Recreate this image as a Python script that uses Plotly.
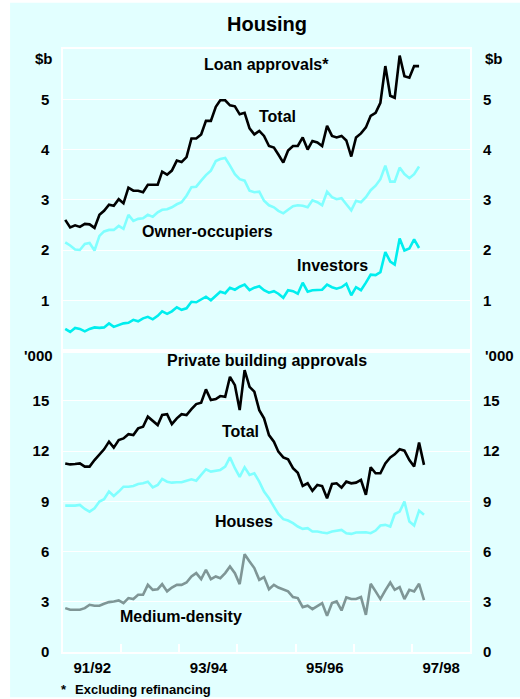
import plotly.graph_objects as go
import pandas as pd

# ---------------- data (monthly, from July 1991) ----------------
loan_total = [2.60, 2.45, 2.49, 2.46, 2.52, 2.51, 2.44, 2.70, 2.78, 2.90,
              2.88, 3.01, 2.93, 3.24, 3.18, 3.18, 3.15, 3.30, 3.30, 3.30,
              3.56, 3.50, 3.58, 3.78, 3.75, 3.85, 4.22, 4.22, 4.30, 4.57,
              4.57, 4.85, 4.98, 4.98, 4.88, 4.86, 4.70, 4.73, 4.42, 4.30,
              4.37, 4.27, 4.07, 4.04, 3.90, 3.74, 3.98, 4.07, 4.07, 4.24,
              4.00, 4.17, 4.14, 4.07, 4.47, 4.27, 4.24, 4.27, 4.18, 3.86,
              4.24, 4.32, 4.44, 4.67, 4.73, 4.93, 5.66, 5.07, 5.03, 5.87,
              5.46, 5.43, 5.66, 5.66]
loan_owner = [2.15, 2.09, 2.01, 2.00, 2.12, 2.14, 1.99, 2.28, 2.37, 2.40,
              2.40, 2.48, 2.42, 2.70, 2.58, 2.62, 2.63, 2.70, 2.66, 2.75,
              2.80, 2.81, 2.85, 2.91, 2.95, 3.08, 3.25, 3.26, 3.38, 3.49,
              3.58, 3.77, 3.81, 3.83, 3.68, 3.51, 3.41, 3.38, 3.18, 3.15,
              3.16, 2.98, 2.89, 2.85, 2.78, 2.73, 2.80, 2.87, 2.89, 2.88,
              2.85, 2.99, 2.95, 2.89, 3.16, 3.05, 3.01, 3.03, 2.91, 2.79,
              2.98, 2.95, 3.05, 3.19, 3.28, 3.41, 3.68, 3.36, 3.36, 3.64,
              3.51, 3.43, 3.51, 3.66]
loan_investor = [0.43, 0.37, 0.45, 0.43, 0.38, 0.43, 0.46, 0.45, 0.46, 0.54,
                 0.47, 0.51, 0.54, 0.55, 0.61, 0.58, 0.64, 0.67, 0.62, 0.69,
                 0.78, 0.73, 0.78, 0.86, 0.81, 0.84, 0.97, 0.96, 1.02, 1.07,
                 1.00, 1.09, 1.17, 1.14, 1.25, 1.21, 1.27, 1.31, 1.20, 1.25,
                 1.28, 1.20, 1.15, 1.18, 1.13, 1.05, 1.20, 1.18, 1.13, 1.35,
                 1.17, 1.20, 1.20, 1.21, 1.31, 1.26, 1.23, 1.26, 1.33, 1.10,
                 1.26, 1.20, 1.35, 1.51, 1.50, 1.56, 1.96, 1.77, 1.71, 2.23,
                 1.99, 2.03, 2.21, 2.04]

bld_total = [11.26, 11.20, 11.22, 11.26, 11.07, 11.07, 11.46, 11.80, 12.10, 12.56,
             12.20, 12.65, 12.75, 13.00, 12.95, 13.35, 13.45, 14.05, 13.80, 13.55,
             14.15, 14.20, 13.60, 13.95, 14.20, 14.15, 14.50, 14.80, 14.88, 15.68,
             15.04, 15.10, 15.28, 15.24, 16.43, 15.93, 14.44, 16.83, 15.83, 15.54,
             14.44, 13.95, 12.95, 12.56, 11.96, 11.62, 11.50, 10.97, 10.70, 9.91,
             10.07, 9.62, 9.97, 9.91, 9.18, 10.03, 10.07, 9.81, 10.17, 10.07,
             10.11, 10.27, 9.38, 11.03, 10.67, 10.67, 11.26, 11.62, 11.80, 12.10,
             12.02, 11.46, 11.07, 12.50, 11.17]
bld_houses = [8.74, 8.72, 8.74, 8.78, 8.54, 8.38, 8.58, 8.98, 9.12, 9.58,
              9.32, 9.58, 9.87, 9.87, 9.91, 10.03, 10.07, 10.17, 9.83, 9.97,
              10.33, 10.17, 10.11, 10.13, 10.13, 10.23, 10.31, 10.23, 10.57, 10.91,
              10.77, 10.83, 10.87, 11.07, 11.62, 10.97, 10.46, 11.03, 10.57, 10.67,
              10.17, 9.58, 9.18, 8.68, 8.24, 7.93, 7.85, 7.69, 7.49, 7.35,
              7.39, 7.19, 7.19, 7.13, 7.09, 7.19, 7.23, 7.29, 7.09, 7.05,
              7.13, 7.13, 7.15, 7.09, 7.25, 7.55, 7.59, 7.49, 8.24, 8.38,
              8.98, 7.79, 7.55, 8.44, 8.19]
bld_medium = [2.62, 2.52, 2.52, 2.52, 2.62, 2.82, 2.76, 2.76, 2.88, 2.98,
              3.02, 3.08, 2.92, 3.22, 3.16, 3.42, 3.42, 4.01, 3.71, 3.75,
              4.05, 3.62, 3.85, 4.01, 4.01, 4.15, 4.51, 4.71, 4.35, 4.91,
              4.35, 4.51, 4.41, 4.71, 5.11, 4.70, 4.05, 5.84, 5.40, 5.01,
              4.31, 4.47, 3.75, 4.01, 3.85, 3.75, 3.62, 3.28, 3.22, 2.68,
              2.76, 2.56, 2.76, 2.92, 2.16, 2.92, 3.02, 2.48, 3.26, 3.16,
              3.16, 3.28, 2.22, 4.07, 3.62, 3.16, 3.68, 4.15, 3.71, 3.87,
              3.16, 3.71, 3.62, 4.07, 3.10]

year_labels = ["91/92", "93/94", "95/96", "97/98"]
year_label_dates = ["1992-01-01", "1994-01-01", "1996-01-01", "1998-01-01"]
year_start_dates = ["1992-07-01", "1993-07-01", "1994-07-01",
                    "1995-07-01", "1996-07-01", "1997-07-01"]
x_range = ["1991-07-01", "1998-07-01"]

loan_ticks = [1, 2, 3, 4, 5]
bld_ticks = [0, 3, 6, 9, 12, 15]

# ---------------- style ----------------
BG = "#e2ffff"
FONT = "Liberation Sans, Arial, sans-serif"
BLACK = "#000000"
LIGHT = "#80ffff"
CYAN = "#00eeee"
GREY = "#7f9696"
LW = 2.6


def months(n):
    return pd.date_range("1991-07-01", periods=n, freq="MS") + pd.Timedelta(days=14)


lm = months(len(loan_total))
bm = months(len(bld_total))

fig = go.Figure()
# top panel: loan approvals
fig.add_trace(go.Scatter(x=lm, y=loan_owner, mode="lines", line=dict(color=LIGHT, width=LW),
                         xaxis="x2", yaxis="y2", name="Owner-occupiers"))
fig.add_trace(go.Scatter(x=lm, y=loan_investor, mode="lines", line=dict(color=CYAN, width=LW),
                         xaxis="x2", yaxis="y2", name="Investors"))
fig.add_trace(go.Scatter(x=lm, y=loan_total, mode="lines", line=dict(color=BLACK, width=LW),
                         xaxis="x2", yaxis="y2", name="Total"))
# bottom panel: building approvals
fig.add_trace(go.Scatter(x=bm, y=bld_medium, mode="lines", line=dict(color=GREY, width=LW),
                         xaxis="x", yaxis="y", name="Medium-density"))
fig.add_trace(go.Scatter(x=bm, y=bld_houses, mode="lines", line=dict(color=LIGHT, width=LW),
                         xaxis="x", yaxis="y", name="Houses"))
fig.add_trace(go.Scatter(x=bm, y=bld_total, mode="lines", line=dict(color=BLACK, width=LW),
                         xaxis="x", yaxis="y", name="Total"))
# invisible traces for right-hand axes
fig.add_trace(go.Scatter(x=[bm[0]], y=[None], xaxis="x", yaxis="y3", showlegend=False, hoverinfo="skip"))
fig.add_trace(go.Scatter(x=[lm[0]], y=[None], xaxis="x2", yaxis="y4", showlegend=False, hoverinfo="skip"))

tickfont = dict(family=FONT, size=15, color="black", weight="bold")

yax_common = dict(showgrid=True, gridcolor="white", gridwidth=1, zeroline=False,
                  showline=True, linecolor="white", linewidth=1.5, mirror=True,
                  ticks="", tickfont=tickfont, fixedrange=True)

fig.update_layout(
    width=520, height=699,
    margin=dict(l=63, r=50, t=49, b=47),
    paper_bgcolor="white", plot_bgcolor=BG,
    showlegend=False,
    xaxis=dict(domain=[0, 1], anchor="y", range=x_range, type="date",
               tickmode="array", tickvals=year_label_dates, ticktext=year_labels,
               ticks="", tickfont=tickfont, ticklabelstandoff=1,
               showgrid=False, zeroline=False,
               showline=True, linecolor="white", linewidth=1.5, mirror=True,
               minor=dict(tickmode="array", tickvals=year_start_dates, ticks="inside",
                          ticklen=8, tickwidth=1.5, tickcolor="white", showgrid=False)),
    xaxis2=dict(domain=[0, 1], anchor="y2", range=x_range, type="date", matches="x",
                showticklabels=False, ticks="", showgrid=False, zeroline=False,
                showline=True, linecolor="white", linewidth=1.5, mirror=True),
    yaxis=dict(domain=[0, 0.5], anchor="x", range=[0, 18], tickmode="array",
               tickvals=bld_ticks, ticklabelstandoff=9, **yax_common),
    yaxis3=dict(overlaying="y", side="right", anchor="x", range=[0, 18], tickmode="array",
                tickvals=bld_ticks, showgrid=False, zeroline=False, showline=False,
                ticks="", tickfont=tickfont, ticklabelstandoff=12),
    yaxis2=dict(domain=[0.5, 1], anchor="x2", range=[0, 6], tickmode="array",
                tickvals=loan_ticks, ticklabelstandoff=9, **yax_common),
    yaxis4=dict(overlaying="y2", side="right", anchor="x2", range=[0, 6], tickmode="array",
                tickvals=loan_ticks, showgrid=False, zeroline=False, showline=False,
                ticks="", tickfont=tickfont, ticklabelstandoff=12),
)

# cyan panel behind everything
fig.add_shape(type="rect", xref="paper", yref="paper", x0=-0.13, x1=1.125, y0=-0.075, y1=1.0765,
              fillcolor=BG, line=dict(width=0), layer="below")


def ann(text, x, y, size=16, xanchor="center"):
    fig.add_annotation(text=text, x=x, y=y, xref="paper", yref="paper", showarrow=False,
                       xanchor=xanchor, yanchor="middle",
                       font=dict(family=FONT, size=size, color="black", weight="bold"))


ann("Housing", 0.501, 1.0415, size=20)
ann("Loan approvals*", 0.499, 0.975)
ann("Total", 0.527, 0.888)
ann("Owner-occupiers", 0.356, 0.697)
ann("Investors", 0.661, 0.641)
ann("Private building approvals", 0.502, 0.484)
ann("Total", 0.437, 0.3665)
ann("Houses", 0.4435, 0.2156)
ann("Medium-density", 0.2887, 0.0597)
# unit labels
ann("$b", -0.02, 0.985, size=15, xanchor="right")
ann("$b", 1.032, 0.985, size=15, xanchor="left")
ann("'000", -0.02, 0.492, size=15, xanchor="right")
ann("'000", 1.032, 0.492, size=15, xanchor="left")
# footnote
ann("*", 0.002, -0.063, size=13, xanchor="center")
ann("Excluding refinancing", 0.025, -0.063, size=13, xanchor="left")

fig.write_html("out.html", config={"displayModeBar": False},
               post_script="document.body.style.margin='0px';document.body.style.padding='0px';")
